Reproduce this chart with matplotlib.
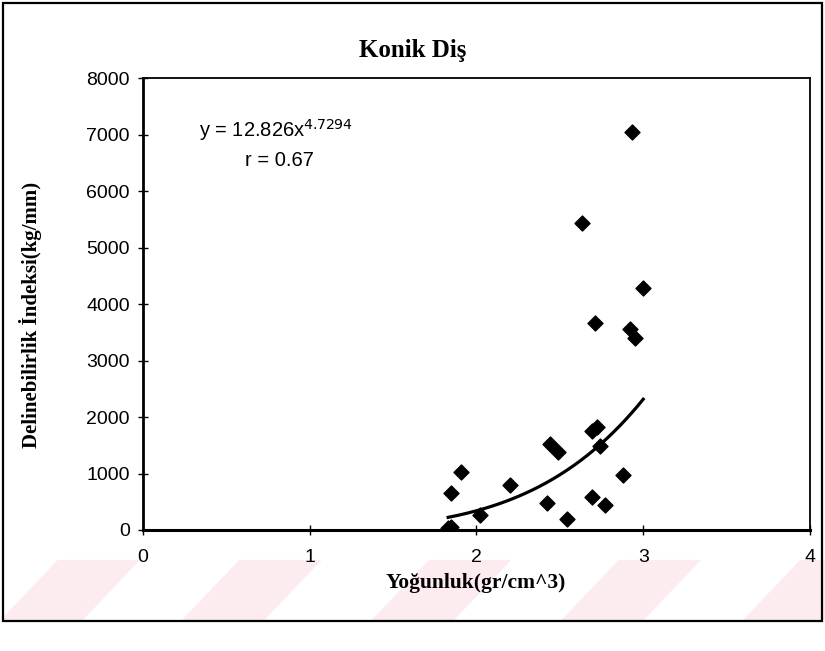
import numpy as np
import matplotlib
matplotlib.use("Agg")
import matplotlib.pyplot as plt
from matplotlib.patches import Rectangle, Polygon

# density (gr/cm^3) and drillability index (kg/mm)
yogunluk = [1.83, 1.85, 1.85, 1.91, 2.02, 2.20, 2.42, 2.44, 2.49, 2.54, 2.63,
            2.69, 2.69, 2.72, 2.71, 2.74, 2.77, 2.88, 2.92, 2.95, 2.93, 3.00]
indeks = [30, 60, 660, 1020, 260, 800, 480, 1520, 1380, 200, 5430,
          590, 1750, 1830, 3660, 1480, 440, 980, 3550, 3400, 7050, 4280]

# power trendline y = a * x^b, as printed on the chart
fit_a = 12.826
fit_b = 4.7294

x_ticks = [0, 1, 2, 3, 4]
y_ticks = [0, 1000, 2000, 3000, 4000, 5000, 6000, 7000, 8000]

fig = plt.figure(figsize=(8.25, 6.51), dpi=100)

# faint scan watermark stripes near the bottom
for x0 in [0.0, 0.22, 0.45, 0.68, 0.9]:
    fig.patches.append(Polygon([[x0, 0.047], [x0 + 0.1, 0.047], [x0 + 0.17, 0.14], [x0 + 0.07, 0.14]],
                               closed=True, transform=fig.transFigure, facecolor="#fdecef",
                               edgecolor="none", zorder=-5))

# outer chart frame
fig.patches.append(Rectangle((0.004, 0.046), 0.992, 0.95, transform=fig.transFigure,
                             fill=False, edgecolor="black", linewidth=1.6, zorder=1))

ax = fig.add_axes([0.1733, 0.1859, 0.8085, 0.694])
ax.patch.set_alpha(0)

ax.scatter(yogunluk, indeks, marker="D", s=58, color="black", zorder=3)

xs = np.linspace(min(yogunluk), max(yogunluk), 200)
ax.plot(xs, fit_a * xs ** fit_b, color="black", linewidth=2.3, zorder=2)

ax.set_xlim(0, 4)
ax.set_ylim(0, 8000)
ax.set_xticks(x_ticks)
ax.set_yticks(y_ticks)
ax.tick_params(direction="inout", length=7, width=1, labelsize=14, pad=6)
ax.tick_params(axis="x", pad=10)
for lab in ax.get_xticklabels() + ax.get_yticklabels():
    lab.set_fontfamily("Liberation Sans")

ax.spines["left"].set_linewidth(2)
ax.spines["bottom"].set_linewidth(2.2)
ax.spines["top"].set_linewidth(1.3)
ax.spines["right"].set_linewidth(1.3)

ax.text(0.8, 7080, "y = 12.826x$^{4.7294}$", fontsize=14.5, family="Liberation Sans", ha="center", va="center")
ax.text(0.82, 6550, "r = 0.67", fontsize=14.5, family="Liberation Sans", ha="center", va="center")

fig.text(0.5, 0.922, "Konik Diş", fontsize=18, fontweight="bold", family="Liberation Serif",
         ha="center", va="center")
fig.text(0.577, 0.104, "Yoğunluk(gr/cm^3)", fontsize=15.5, fontweight="bold", family="Liberation Serif",
         ha="center", va="center")
fig.text(0.037, 0.516, "Delinebilirlik İndeksi(kg/mm)", fontsize=15, fontweight="bold",
         family="Liberation Serif", rotation=90, ha="center", va="center")

fig.savefig("out.png", dpi=100)
